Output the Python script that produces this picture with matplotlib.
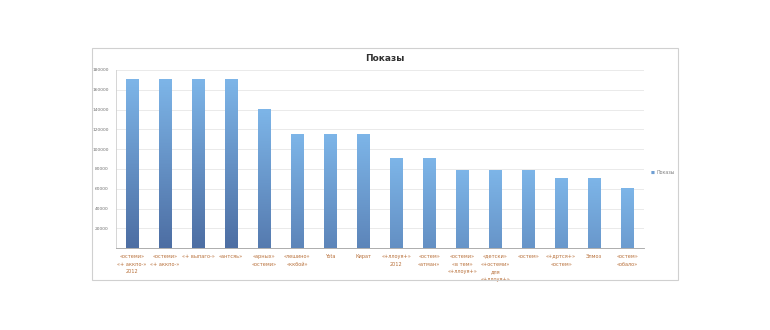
import matplotlib.pyplot as plt
import numpy as np
from matplotlib.colors import to_rgb
from matplotlib.patches import Rectangle

categories = [
    "«остеми»\n«+ аккпо-»\n2012", "«остеми»\n«+ аккпо-»", "«+ выпаго-»", "«антсяь»",
    "«арных»\n«остеми»", "«лешино»\n«ккбой»", "Yota", "Кират",
    "«+ллоуя+»\n2012", "«остем»\n«атман»", "«остеми»\n«в тем»\n«+ллоуя+»",
    "«детски»\n«+остеми»\nдля\n«+ллоуя+»", "«остем»", "«+дртся+»\n«остем»",
    "Элмоз", "«остем»\n«обало»",
]
values = [170000, 170000, 170000, 170000, 140000, 115000, 115000, 115000,
          90000, 90000, 78000, 78000, 78000, 70000, 70000, 60000]
y_ticks = [20000, 40000, 60000, 80000, 100000, 120000, 140000, 160000, 180000]
series_name = "Показы"

fig = plt.figure(figsize=(7.7, 3.3), dpi=100)
fig.patch.set_facecolor("white")

# chart frame
fig.add_artist(Rectangle((0.119, 0.152), 0.762, 0.703, transform=fig.transFigure,
                         fill=False, edgecolor="#d0d0d0", linewidth=0.8))

ax = fig.add_axes([0.150, 0.248, 0.686, 0.540])
x = np.arange(len(values))

top = np.array(to_rgb("#7db5e8"))
dark = np.array(to_rgb("#4d6ea3"))
w = 0.38
for xi, v in zip(x, values):
    bot = top + (dark - top) * (v / 170000)
    grad = np.linspace(0, 1, 64)[:, None]
    img = bot[None, None, :] * (1 - grad[..., None]) + top[None, None, :] * grad[..., None]
    ax.imshow(img, extent=(xi - w / 2, xi + w / 2, 0, v), origin="lower",
              aspect="auto", zorder=2)

ax.set_xlim(-0.5, len(values) - 0.5)
ax.set_ylim(0, 180000)
ax.set_yticks(y_ticks)
ax.set_yticklabels([str(t) for t in y_ticks], fontsize=3.2, color="#707070")
ax.set_xticks(x)
ax.set_xticklabels(categories, fontsize=3.6, color="#b8703a", linespacing=1.7)
ax.tick_params(axis="x", length=0, pad=4)
ax.tick_params(axis="y", length=0, pad=5)
ax.grid(axis="y", color="#e6e6e6", linewidth=0.6, zorder=0)
ax.set_axisbelow(True)
for s in ["top", "right"]:
    ax.spines[s].set_visible(False)
ax.spines["left"].set_color("#cfcfcf")
ax.spines["bottom"].set_color("#a0a0a0")
ax.spines["left"].set_linewidth(0.6)
ax.spines["bottom"].set_linewidth(0.6)

fig.text(0.50, 0.824, series_name, ha="center", va="center", fontsize=6.5,
         fontweight="bold", color="#303030")
fig.text(0.847, 0.476, "■", ha="center", va="center", fontsize=3, color="#6f9fd3")
fig.text(0.853, 0.476, series_name, ha="left", va="center", fontsize=3.4, color="#808080")

fig.savefig("out.png", dpi=100)
